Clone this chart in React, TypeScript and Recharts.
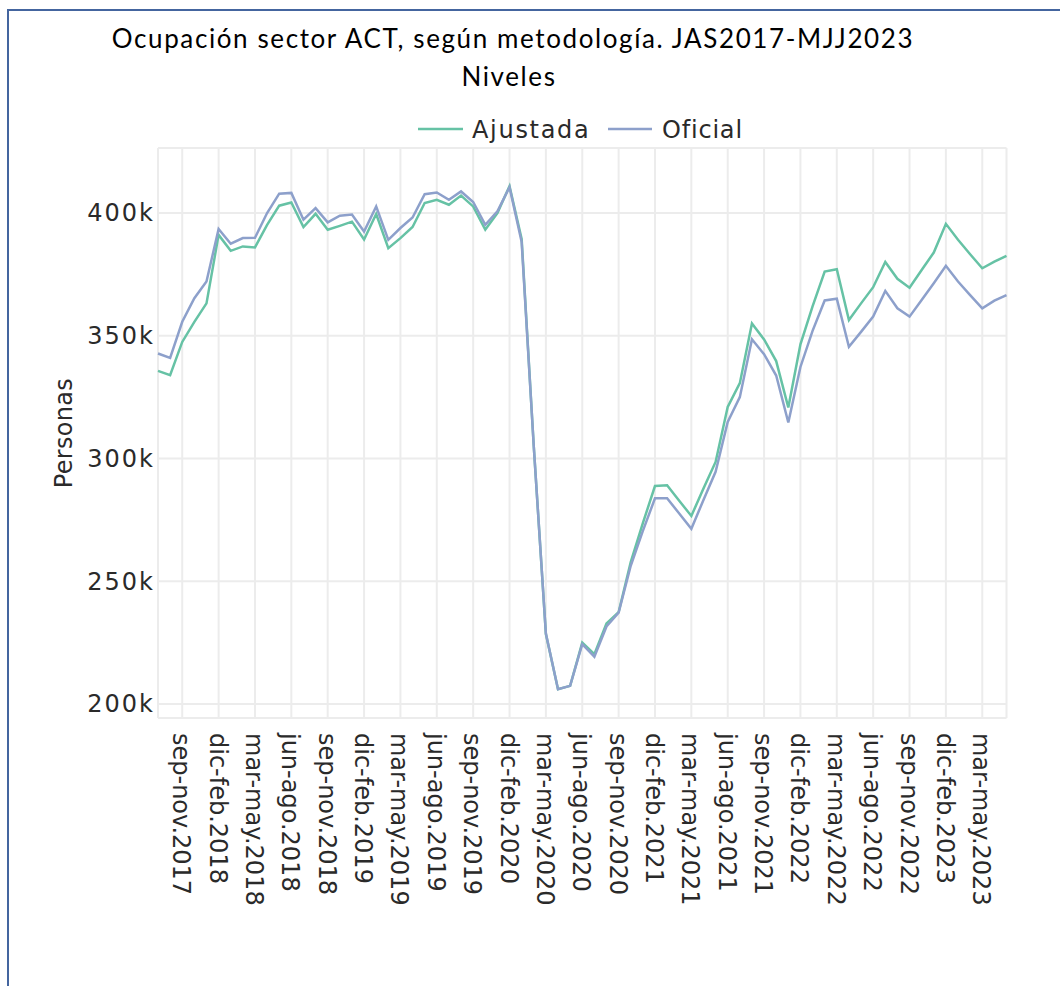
import React from "react";
import { LineChart, Line, XAxis, YAxis, CartesianGrid } from "recharts";

const periods = [
  "jul-sep.2017", "ago-oct.2017", "sep-nov.2017", "oct-dic.2017", "nov-ene.2018", "dic-feb.2018",
  "ene-mar.2018", "feb-abr.2018", "mar-may.2018", "abr-jun.2018", "may-jul.2018", "jun-ago.2018",
  "jul-sep.2018", "ago-oct.2018", "sep-nov.2018", "oct-dic.2018", "nov-ene.2019", "dic-feb.2019",
  "ene-mar.2019", "feb-abr.2019", "mar-may.2019", "abr-jun.2019", "may-jul.2019", "jun-ago.2019",
  "jul-sep.2019", "ago-oct.2019", "sep-nov.2019", "oct-dic.2019", "nov-ene.2020", "dic-feb.2020",
  "ene-mar.2020", "feb-abr.2020", "mar-may.2020", "abr-jun.2020", "may-jul.2020", "jun-ago.2020",
  "jul-sep.2020", "ago-oct.2020", "sep-nov.2020", "oct-dic.2020", "nov-ene.2021", "dic-feb.2021",
  "ene-mar.2021", "feb-abr.2021", "mar-may.2021", "abr-jun.2021", "may-jul.2021", "jun-ago.2021",
  "jul-sep.2021", "ago-oct.2021", "sep-nov.2021", "oct-dic.2021", "nov-ene.2022", "dic-feb.2022",
  "ene-mar.2022", "feb-abr.2022", "mar-may.2022", "abr-jun.2022", "may-jul.2022", "jun-ago.2022",
  "jul-sep.2022", "ago-oct.2022", "sep-nov.2022", "oct-dic.2022", "nov-ene.2023", "dic-feb.2023",
  "ene-mar.2023", "feb-abr.2023", "mar-may.2023", "abr-jun.2023", "may-jul.2023",
];

const ajustada = [
  335700, 334000, 347500, 355700, 363200, 391100, 384600, 386400, 386000, 395200,
  403000, 404300, 394300, 399700, 393200, 394800, 396500, 389200, 399600, 385700,
  389800, 394300, 404100, 405400, 403400, 407100, 402700, 393200, 400000, 411000,
  389500, 305000, 228500, 206000, 207400, 225000, 220300, 232800, 237400, 257800,
  273700, 288800, 289100, 282800, 276600, 287800, 298600, 321000, 330700, 355000,
  348500, 339700, 320800, 346500, 362000, 376200, 377100, 356400, 363200, 369800,
  380100, 373200, 369600, 376800, 383900, 395600, 389100, 383200, 377500, 380200,
  382600,
];

const oficial = [
  342800, 341000, 355700, 365300, 372100, 393500, 387500, 389800, 389900, 400000,
  407900, 408200, 397300, 402000, 396200, 398900, 399400, 392500, 402700, 389100,
  393900, 398200, 407700, 408400, 405400, 408800, 404500, 395200, 400700, 410500,
  388200, 305000, 228700, 206000, 207400, 224400, 219300, 231600, 237200, 256300,
  270500, 283800, 283800, 277600, 271400, 283100, 294600, 314900, 325000, 348600,
  342500, 333800, 314700, 337300, 352000, 364400, 365100, 345500, 351600, 357800,
  368300, 361200, 357800, 364600, 371400, 378500, 372100, 366600, 361200, 364300,
  366600,
];

const xTickLabels = [
  "sep-nov.2017", "dic-feb.2018", "mar-may.2018", "jun-ago.2018", "sep-nov.2018",
  "dic-feb.2019", "mar-may.2019", "jun-ago.2019", "sep-nov.2019", "dic-feb.2020",
  "mar-may.2020", "jun-ago.2020", "sep-nov.2020", "dic-feb.2021", "mar-may.2021",
  "jun-ago.2021", "sep-nov.2021", "dic-feb.2022", "mar-may.2022", "jun-ago.2022",
  "sep-nov.2022", "dic-feb.2023", "mar-may.2023",
];

const yTicks = [200000, 250000, 300000, 350000, 400000];
const yDomain = [194300, 426500];

const seriesNames = ["Ajustada", "Oficial"];
const seriesColors = ["#66c2a5", "#8da0cb"];

const titleLines = ["Ocupación sector ACT, según metodología. JAS2017-MJJ2023", "Niveles"];
const yAxisTitle = "Personas";

const data = periods.map((p, i) => ({
  period: p,
  [seriesNames[0]]: ajustada[i],
  [seriesNames[1]]: oficial[i],
}));

const TICK_FONT = "'DejaVu Sans', Verdana, sans-serif";
const TITLE_FONT = "Lato, 'Open Sans', sans-serif";
const TEXT_COLOR = "#2a2a2a";

function XTick(props: any) {
  const { x, y, payload } = props;
  return (
    <text
      x={x}
      y={y}
      transform={`rotate(90, ${x}, ${y})`}
      textAnchor="start"
      dy={9}
      fontFamily={TICK_FONT}
      fontSize={24}
      fill={TEXT_COLOR}
    >
      {payload.value}
    </text>
  );
}

function YTick(props: any) {
  const { x, y, payload } = props;
  return (
    <text
      x={x}
      y={y}
      dy="0.35em"
      textAnchor="end"
      fontFamily={TICK_FONT}
      fontSize={24}
      letterSpacing={2}
      fill={TEXT_COLOR}
    >
      {`${payload.value / 1000}k`}
    </text>
  );
}

function YLabel(props: any) {
  const vb = props.viewBox || { x: 0, y: 0, width: 0, height: 0 };
  const cx = vb.x + 14;
  const cy = vb.y + vb.height / 2;
  return (
    <text
      x={cx}
      y={cy}
      transform={`rotate(-90, ${cx}, ${cy})`}
      textAnchor="middle"
      fontFamily={TICK_FONT}
      fontSize={24}
      letterSpacing={0.3}
      fill={TEXT_COLOR}
    >
      {yAxisTitle}
    </text>
  );
}

export default function App() {
  return (
    <div style={{ position: "absolute", left: 0, top: 0, width: 1060, height: 986, background: "#fff", overflow: "hidden" }}>
      <div
        style={{
          position: "absolute",
          left: 7,
          top: 9,
          width: 1100,
          height: 1100,
          borderLeft: "2.5px solid #44659f",
          borderTop: "2.5px solid #44659f",
        }}
      />
      <svg width={1060} height={986} style={{ position: "absolute", left: 0, top: 0 }}>
        <text x={513} y={48} textAnchor="middle" fontFamily={TITLE_FONT} fontSize={26} letterSpacing={1.6} fill="#000">
          {titleLines[0]}
        </text>
        <text x={509} y={86} textAnchor="middle" fontFamily={TITLE_FONT} fontSize={26} letterSpacing={1.6} fill="#000">
          {titleLines[1]}
        </text>
        <line x1={418} x2={463} y1={129} y2={129} stroke={seriesColors[0]} strokeWidth={2.5} />
        <text x={472} y={138} fontFamily={TICK_FONT} fontSize={24} letterSpacing={1.7} fill={TEXT_COLOR}>
          {seriesNames[0]}
        </text>
        <line x1={608} x2={652} y1={129} y2={129} stroke={seriesColors[1]} strokeWidth={2.5} />
        <text x={662} y={138} fontFamily={TICK_FONT} fontSize={24} letterSpacing={0.8} fill={TEXT_COLOR}>
          {seriesNames[1]}
        </text>
      </svg>
      <div style={{ position: "absolute", left: 0, top: 0 }}>
        <LineChart
          width={1060}
          height={986}
          data={data}
          margin={{ top: 148, right: 53.5, bottom: 68, left: 58 }}
        >
          <CartesianGrid stroke="#ececec" strokeWidth={2} fill="none" />
          <XAxis
            dataKey="period"
            type="category"
            scale="point"
            ticks={xTickLabels}
            interval={0}
            height={200}
            axisLine={false}
            tickLine={false}
            tickSize={0}
            tickMargin={15}
            tick={<XTick />}
            padding={{ left: 0, right: 0 }}
          />
          <YAxis
            type="number"
            domain={yDomain}
            ticks={yTicks}
            interval={0}
            width={100}
            axisLine={false}
            tickLine={false}
            tickSize={0}
            tickMargin={3}
            tick={<YTick />}
            allowDataOverflow
            label={(p: any) => <YLabel {...p} />}
          />
          <Line
            type="linear"
            dataKey={seriesNames[0]}
            stroke={seriesColors[0]}
            strokeWidth={2.5}
            dot={false}
            isAnimationActive={false}
          />
          <Line
            type="linear"
            dataKey={seriesNames[1]}
            stroke={seriesColors[1]}
            strokeWidth={2.5}
            dot={false}
            isAnimationActive={false}
          />
        </LineChart>
      </div>
    </div>
  );
}
